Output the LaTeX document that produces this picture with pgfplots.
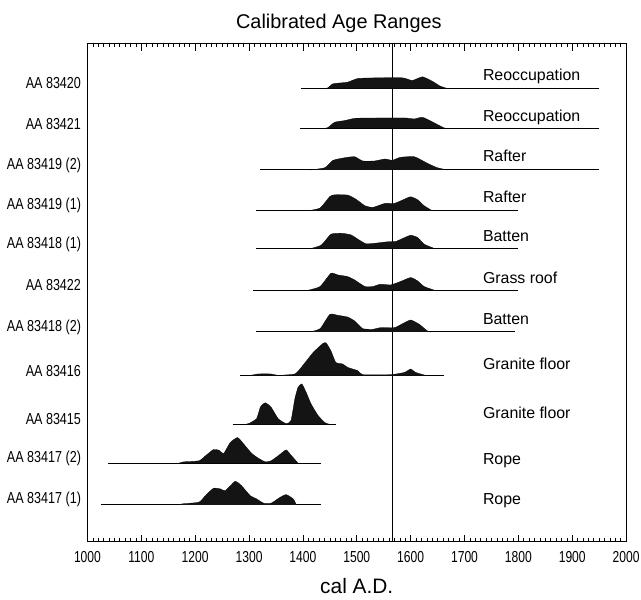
\documentclass[border=0pt]{standalone}
\usepackage{pgfplots}
\pgfplotsset{compat=1.18}
\usepackage{fontspec}
\setmainfont{Liberation Sans}
\usepackage{graphicx}
\newcommand{\nar}[1]{\scalebox{0.79}[1]{#1}}
\newcommand{\narr}[1]{\scalebox{0.76}[1]{#1}}
\newcommand{\dens}[2]{%
  \addplot[fill=black!92, draw=black, line width=0.3pt, smooth, tension=0.3,
    y filter/.expression={y+#1}] coordinates {#2};}
\newcommand{\base}[3]{\addplot[black, line width=1.1pt] coordinates {(#2,#1) (#3,#1)};}
\begin{document}
\begin{tikzpicture}
\begin{axis}[
  scale only axis, width=542pt, height=501pt,
  xmin=1000, xmax=2000, ymin=0, ymax=501,
  clip=false,
  axis line style={line width=1pt},
  xtick={1000,1100,...,2000},
  minor x tick num=9,
  tick align=inside,
  major tick length=7pt, minor tick length=3.5pt,
  every tick/.style={black, line width=0.6pt},
  xticklabel pos=lower,
  xticklabel={\narr{\pgfmathprintnumber[assume math mode=true, 1000 sep={}]{\tick}}},
  xticklabel style={font=\fontsize{16}{17}\selectfont, yshift=-6pt},
  ytick={461,420,379,338,299,258,216,172,123,84,43},
  yticklabels={\nar{AA 83420},\nar{AA 83421},\nar{AA 83419 (2)},\nar{AA 83419 (1)},\nar{AA 83418 (1)},\nar{AA 83422},\nar{AA 83418 (2)},\nar{AA 83416},\nar{AA 83415},\nar{AA 83417 (2)},\nar{AA 83417 (1)}},
  ytick style={draw=none},
  yticklabel style={font=\fontsize{16}{17}\selectfont, anchor=east, xshift=-3pt},
]
% vertical reference line
\addplot[black, line width=1pt] coordinates {(1566,0) (1566,501)};

% Row 1: AA 83420
\base{456}{1397}{1950}
\dens{456}{(1440,0)(1446,0.5)(1456,4.7)(1483,6.3)(1502,10)(1540,10.7)(1585,10.7)(1603,8)(1622,11.7)(1640,7.3)(1655,2.3)(1668,0)}
% Row 2: AA 83421
\base{416}{1395}{1950}
\dens{416}{(1440,0)(1446,0.5)(1459,6)(1478,7.7)(1498,10)(1550,10.3)(1590,10.3)(1607,9.3)(1622,11)(1644,5.3)(1662,0.3)(1668,0)}
% Row 3: AA 83419 (2)
\base{374}{1321}{1950}
\dens{374}{(1415,0)(1441,2.3)(1456,9.7)(1478,12.3)(1496,13.3)(1511,9)(1533,9)(1552,11)(1566,9.7)(1581,12.7)(1607,13.3)(1631,6.7)(1649,2.3)(1668,0)}
% Row 4: AA 83419 (1)
\base{333}{1312}{1800}
\dens{333}{(1410,0)(1432,2.7)(1450,14.3)(1459,16)(1483,15.7)(1498,11.7)(1515,5)(1530,3.3)(1552,7.3)(1570,7.3)(1589,11.7)(1600,14)(1613,11)(1625,5)(1640,0)}
% Row 5: AA 83418 (1)
\base{295}{1312}{1800}
\dens{295}{(1415,0)(1434,3.3)(1452,14.3)(1471,15.3)(1489,13.7)(1502,9.3)(1517,4.7)(1535,5.3)(1557,6.7)(1572,7)(1585,10)(1600,13.3)(1613,11)(1625,4.3)(1644,0)}
% Row 6: AA 83422
\base{253}{1308}{1800}
\dens{253}{(1410,0)(1432,3.7)(1452,17)(1465,15.3)(1483,13.7)(1496,10.3)(1515,3.7)(1530,3.7)(1544,6)(1563,5.3)(1581,8.7)(1600,12.7)(1613,9.3)(1625,3.7)(1644,0)}
% Row 7: AA 83418 (2)
\base{211}{1312}{1793}
\dens{211}{(1413,0)(1432,3.3)(1450,17.7)(1465,16.7)(1483,15)(1496,11)(1511,3.3)(1530,2.7)(1544,4.3)(1570,4.3)(1585,8.3)(1600,12)(1616,7.7)(1631,1)(1637,0)}
% Row 8: AA 83416
\base{167}{1284}{1662}
\dens{167}{(1300,0)(1317,1.7)(1341,1.7)(1354,0.3)(1385,1.7)(1397,8.3)(1419,23.3)(1437,32.3)(1443,33)(1452,25)(1461,13.3)(1474,11.7)(1483,8.3)(1502,5)(1511,1)(1563,1)(1589,3.3)(1600,6.7)(1609,3.3)(1625,0.7)(1631,0)}
% Row 9: AA 83415
\base{118}{1271}{1461}
\dens{118}{(1290,0)(1299,0.7)(1314,5.7)(1321,17.3)(1330,21.7)(1341,17.3)(1354,5.7)(1369,0.7)(1378,4)(1385,25.7)(1391,37.3)(1398,40.7)(1406,32.3)(1415,20.7)(1428,9)(1441,1.7)(1450,0)}
% Row 10: AA 83417 (2)
\base{79}{1039}{1434}
\dens{79}{(1170,0)(1179,1.3)(1207,2.3)(1219,7.3)(1234,13.7)(1244,13)(1253,9.7)(1265,20.7)(1279,25.7)(1293,17.3)(1305,9.7)(1317,5)(1330,1.3)(1341,2.3)(1358,9)(1369,13.3)(1379,7.3)(1391,0)}
% Row 11: AA 83417 (1)
\base{37}{1026}{1434}
\dens{37}{(1170,0)(1176,1)(1207,2.7)(1219,9.3)(1234,16.7)(1247,16)(1256,14.3)(1274,23.7)(1286,19.3)(1302,9.3)(1314,6)(1327,1.7)(1341,1.7)(1358,7.7)(1369,10.3)(1382,6)(1388,0)}

% right-hand labels
\begin{scope}[every node/.style={anchor=base west, font=\fontsize{16}{18}\selectfont, inner sep=0pt}]
\node at (axis cs:1734,464) {Reoccupation};
\node at (axis cs:1734,423) {Reoccupation};
\node at (axis cs:1734,382) {Rafter};
\node at (axis cs:1734,341) {Rafter};
\node at (axis cs:1734,302) {Batten};
\node at (axis cs:1734,260) {Grass roof};
\node at (axis cs:1734,218) {Batten};
\node at (axis cs:1734,173) {Granite floor};
\node at (axis cs:1734,124) {Granite floor};
\node at (axis cs:1734,78) {Rope};
\node at (axis cs:1734,37) {Rope};
\end{scope}
% title and axis label
\node[anchor=base, font=\fontsize{20}{24}\selectfont, inner sep=0pt] at (rel axis cs:0.5,1) [yshift=15pt, xshift=-18pt] {Calibrated Age Ranges};
\node[anchor=base, font=\fontsize{21}{24}\selectfont, inner sep=0pt] at (rel axis cs:0.5,0) [yshift=-52pt] {cal A.D.};
\end{axis}
\pgfresetboundingbox
\path ([shift={(-88pt,-58pt)}]current axis.south west) rectangle ([shift={(15pt,44pt)}]current axis.north east);
\end{tikzpicture}
\end{document}
